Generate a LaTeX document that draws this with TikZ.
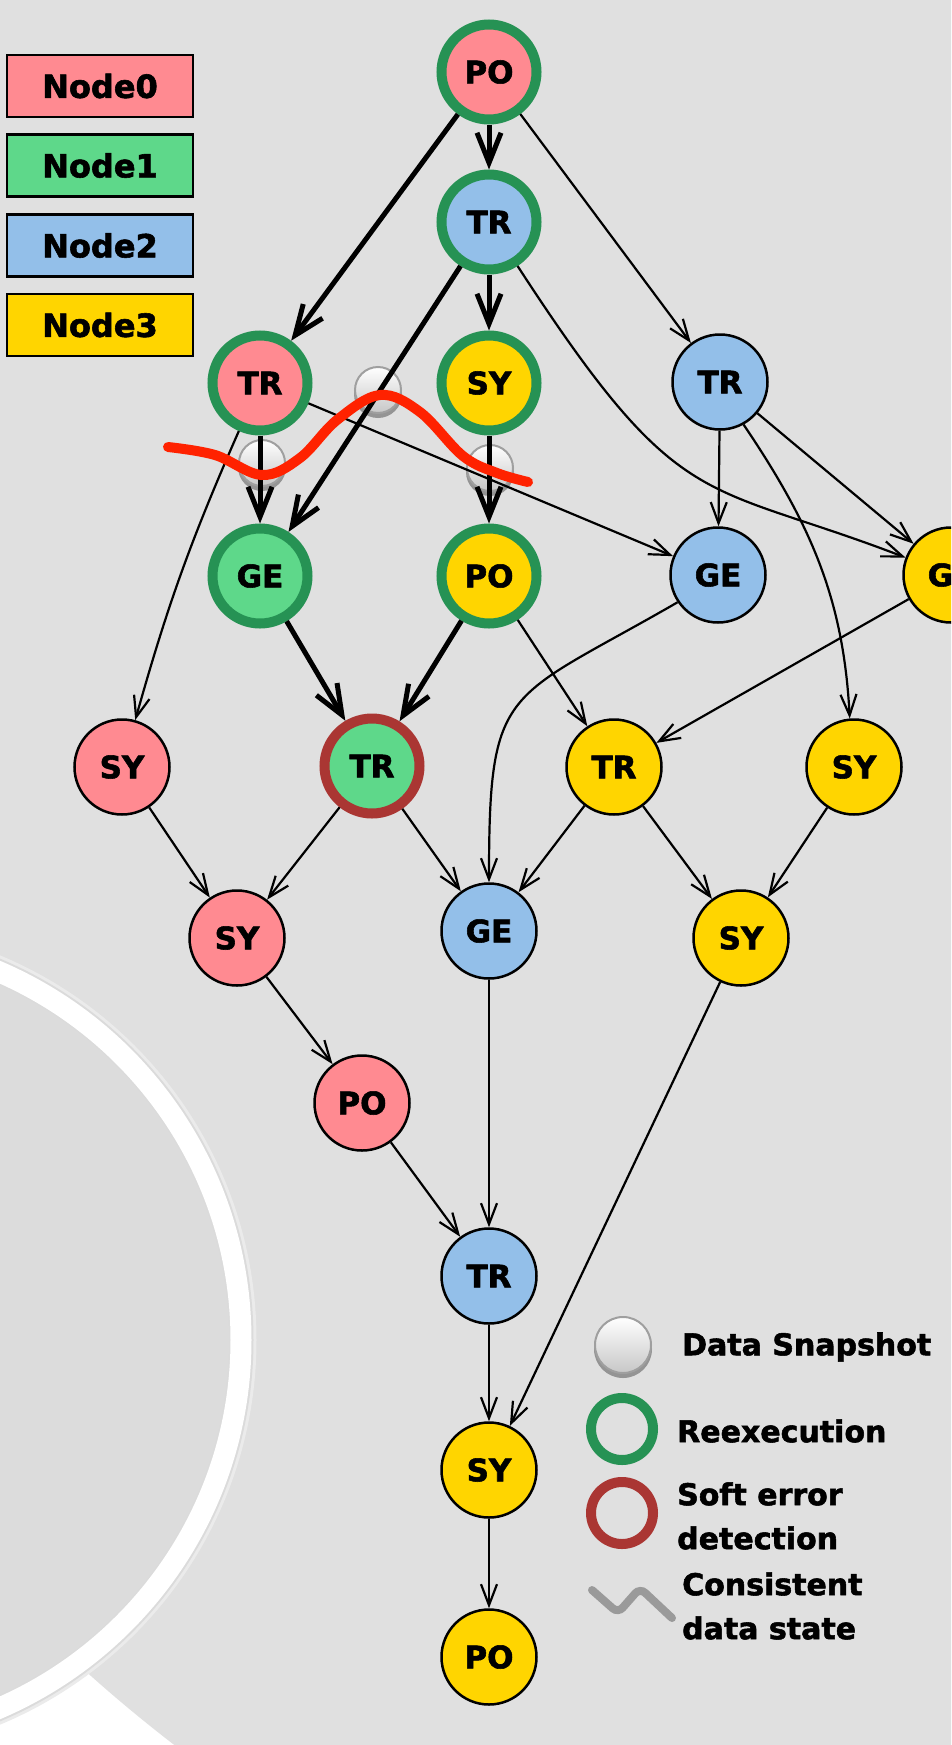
\documentclass[tikz,border=0pt]{standalone}
\usepackage{fontspec}
\setmainfont{DejaVu Sans}
\newfontfamily\heavyfont{DejaVu Sans Bold}[FakeBold=1.8]
\usetikzlibrary{arrows.meta}
\definecolor{bg}{HTML}{E0E0E0}
\definecolor{cpink}{HTML}{FF8A91}
\definecolor{cgreen}{HTML}{5ED88A}
\definecolor{cblue}{HTML}{93BFE9}
\definecolor{cyellow}{HTML}{FFD500}
\definecolor{ringg}{HTML}{269254}
\definecolor{ringr}{HTML}{AA3633}
\definecolor{redcurve}{HTML}{FF2200}
\definecolor{zig}{HTML}{9A9A9A}
\begin{document}
\begin{tikzpicture}[x=1pt,y=1pt,
 task/.style={circle, minimum size=95pt, inner sep=0pt, draw=black, line width=2.5pt, font=\fontsize{31}{31}\selectfont\heavyfont},
 reex/.style={task, draw=ringg, line width=10pt},
 soft/.style={task, draw=ringr, line width=10pt},
 thinarr/.style={line width=2.2pt, -{Straight Barb[length=21pt,width=16pt]}},
 thickarr/.style={line width=5pt, -{Straight Barb[length=30pt,width=24pt]}},
 legbox/.style={rectangle, draw=black, line width=2.5pt, minimum width=186pt, minimum height=62pt, inner sep=0pt, font=\fontsize{32}{32}\selectfont\heavyfont},
 legtext/.style={anchor=west, inner sep=0pt, align=left, font=\fontsize{30}{44}\selectfont\heavyfont},
 snap/.style={circle, inner sep=0pt, minimum size=#1, draw=gray!75, line width=2pt, top color=white, bottom color=black!22},
 snapsh/.style={circle, inner sep=0pt, minimum size=#1, fill=black!42},
 ringicon/.style={circle, inner sep=0pt, minimum size=62pt, line width=10pt},
]
\useasboundingbox (0,0) rectangle (951,-1745);
\clip (0,0) rectangle (951,-1745);
% background
\fill[white] (0,0) rectangle (951,-1745);
\fill[bg] (1090,-553) circle (1503);
% white ring
\draw[black!8, line width=31pt] (-160,-1340) circle (401);
\draw[black!14, line width=25pt] (-160,-1340) circle (401);
\draw[white, line width=21pt] (-160,-1340) circle (401);
\fill[bg!98!black] (-160,-1340) circle (389);

% legend boxes
\node[legbox, fill=cpink] (L0) at (100,-86) {Node0};
\node[legbox, fill=cgreen] (L1) at (100,-165.5) {Node1};
\node[legbox, fill=cblue] (L2) at (100,-245.5) {Node2};
\node[legbox, fill=cyellow] (L3) at (100,-325) {Node3};

% snapshots
\node[snapsh=48pt] at (378,-394) {};
\node[snap=46pt] (S1) at (378,-390) {};
\node[snapsh=48pt] at (262,-467) {};
\node[snap=46pt] (S2) at (262,-463) {};
\node[snapsh=48pt] at (490,-472) {};
\node[snap=46pt] (S3) at (490,-468) {};

% task nodes
\node[reex, fill=cpink] (PO0) at (489,-72) {PO};
\node[reex, fill=cblue] (TR2a) at (489,-222) {TR};
\node[reex, fill=cpink] (TR0) at (260,-383) {TR};
\node[reex, fill=cyellow] (SY3a) at (489,-383) {SY};
\node[task, fill=cblue] (TR2b) at (720,-382) {TR};
\node[reex, fill=cgreen] (GE1) at (260,-576) {GE};
\node[reex, fill=cyellow] (PO3a) at (489,-576) {PO};
\node[task, fill=cblue] (GE2) at (718,-575) {GE};
\node[task, fill=cyellow] (G3) at (951,-575) {GE};
\node[task, fill=cpink] (SY0a) at (122,-767) {SY};
\node[soft, fill=cgreen] (TR1) at (372,-766) {TR};
\node[task, fill=cyellow] (TR3) at (614,-767) {TR};
\node[task, fill=cyellow] (SY3b) at (854,-767) {SY};
\node[task, fill=cpink] (SY0b) at (237,-938) {SY};
\node[task, fill=cblue] (GE2b) at (489,-931) {GE};
\node[task, fill=cyellow] (SY3c) at (741,-938) {SY};
\node[task, fill=cpink] (PO0b) at (362,-1103) {PO};
\node[task, fill=cblue] (TR2c) at (489,-1276) {TR};
\node[task, fill=cyellow] (SY3d) at (489,-1470) {SY};
\node[task, fill=cyellow] (PO3b) at (489,-1657) {PO};

% thick edges (reexecution)
\draw[thickarr] (PO0) -- (TR2a);
\draw[thickarr] (PO0) -- (TR0);
\draw[thickarr] (TR2a) -- (SY3a);
\draw[thickarr] (TR2a) -- (GE1);
\draw[thickarr] (TR0) -- (GE1);
\draw[thickarr] (SY3a) -- (PO3a);
\draw[thickarr] (GE1) -- (TR1);
\draw[thickarr] (PO3a) -- (TR1);

% thin edges
\draw[thinarr] (PO0) -- (TR2b);
\draw[thinarr] (TR0) -- (GE2);
\draw[thinarr] (TR0) to[bend right=4] (SY0a);
\draw[thinarr] (TR2a.303) .. controls +(303:300) and +(159:220) .. (G3.159);
\draw[thinarr] (TR2b) -- (GE2);
\draw[thinarr] (TR2b) -- (G3);
\draw[thinarr] (TR2b.299) .. controls +(-56:120) and +(93:120) .. (SY3b.95);
\draw[thinarr] (GE2.214) .. controls +(210:200) and +(90:200) .. (GE2b.90);
\draw[thinarr] (G3) -- (TR3);
\draw[thinarr] (PO3a) -- (TR3);
\draw[thinarr] (SY0a) -- (SY0b);
\draw[thinarr] (TR1) -- (SY0b);
\draw[thinarr] (TR1) -- (GE2b);
\draw[thinarr] (TR3) -- (GE2b);
\draw[thinarr] (TR3) -- (SY3c);
\draw[thinarr] (SY3b) -- (SY3c);
\draw[thinarr] (SY0b) -- (PO0b);
\draw[thinarr] (PO0b) -- (TR2c);
\draw[thinarr] (GE2b) -- (TR2c);
\draw[thinarr] (TR2c) -- (SY3d);
\draw[thinarr] (SY3c) -- (SY3d);
\draw[thinarr] (SY3d) -- (PO3b);

% consistent data state line
\draw[redcurve, line width=10pt, line cap=round] plot[smooth, tension=0.6] coordinates {(168,-447) (215,-455) (262,-475) (300,-458) (337,-420) (380,-395) (420,-412) (463,-456) (497,-473) (528,-482)};

% legend (bottom right)
\node[snapsh=58pt] at (623,-1349) {};
\node[snap=56pt] (LS) at (623,-1345) {};
\node[legtext] (LT1) at (682,-1347) {Data Snapshot};
\node[ringicon, draw=ringg] (LR1) at (622,-1429) {};
\node[legtext] (LT2) at (677,-1431) {Reexecution};
\node[ringicon, draw=ringr] (LR2) at (622,-1513) {};
\node[legtext] (LT3) at (677,-1516) {Soft error\\detection};
\draw[zig, line width=8pt, line cap=round, rounded corners=7pt] (592,-1590) -- (618,-1613) -- (640,-1588) -- (672,-1618);
\node[legtext] (LT4) at (682,-1606) {Consistent\\data state};
\end{tikzpicture}
\end{document}
